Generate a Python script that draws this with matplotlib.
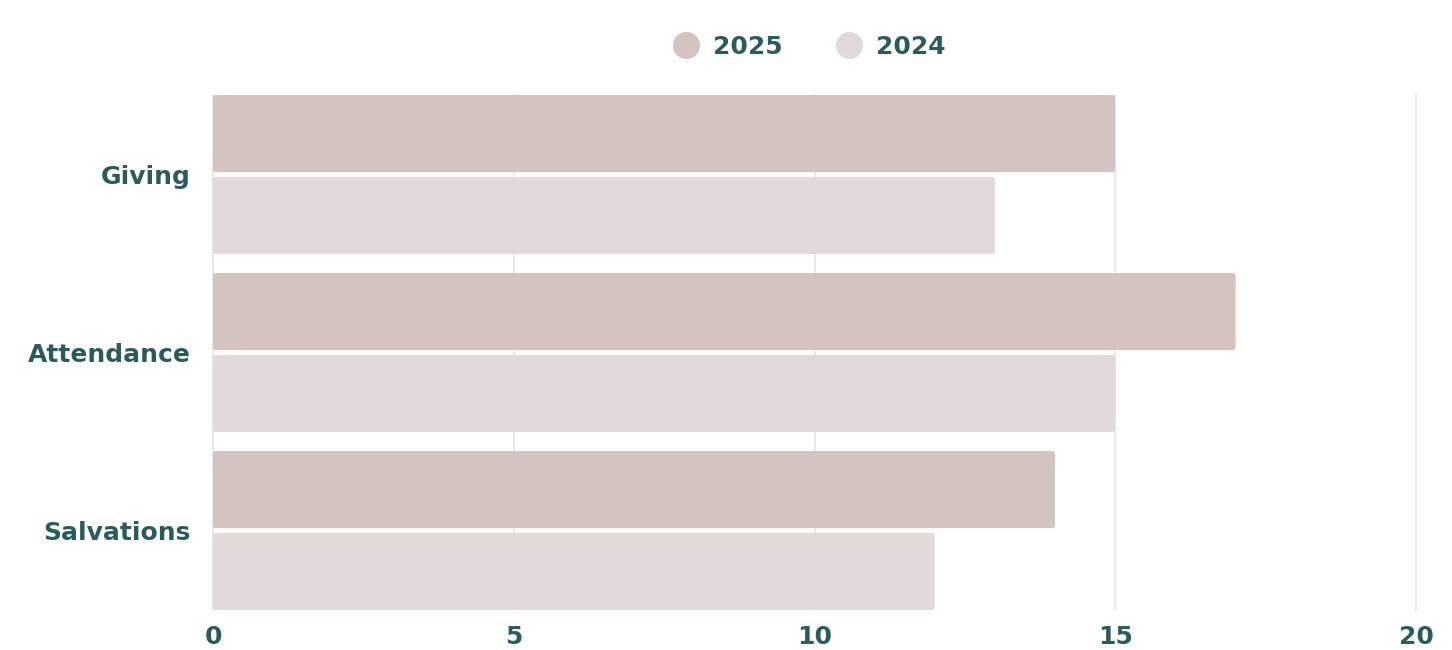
import matplotlib.pyplot as plt
from matplotlib.lines import Line2D
from matplotlib.patches import FancyBboxPatch
from matplotlib.transforms import ScaledTranslation

# =========================================================
# DATA
# =========================================================

categories = ["Giving", "Attendance", "Salvations"]

values_2025 = [15, 17, 14]

values_2024 = [13, 15, 12]

series_labels = ["2025", "2024"]

x_ticks = [0, 5, 10, 15, 20]

# =========================================================
# STYLE
# =========================================================

color_2025 = "#d3c4c1"
color_2024 = "#e2dad9"
text_color = "#2b5b5c"
grid_color = "#e6e6e6"

bar_height = 0.433
offset = 0.23

# =========================================================
# CHART
# =========================================================

fig = plt.figure(figsize=(14.52, 6.5), dpi=100)
ax = fig.add_axes([213 / 1452, 40 / 650, 1203 / 1452, 515 / 650])

ax.set_xlim(0, 20)
ax.set_ylim(2 + 0.4466, -0.4466)

# rounded corners: convert ~3px to data units in both directions
px_x = 20 / 1203
px_y = (2 * 0.4466 + 2) / 515
aspect = px_y / px_x


def rounded_bar(y_center, width, color):
    patch = FancyBboxPatch(
        (0, y_center - bar_height / 2),
        width,
        bar_height,
        boxstyle=f"round,pad=0,rounding_size={3 * px_x}",
        mutation_aspect=aspect,
        facecolor=color,
        edgecolor="none",
        zorder=3,
    )
    ax.add_patch(patch)


for i, cat in enumerate(categories):
    rounded_bar(i - offset, values_2025[i], color_2025)
    rounded_bar(i + offset, values_2024[i], color_2024)

ax.set_yticks(range(len(categories)))
ax.set_yticklabels(categories)

ax.set_xticks(x_ticks)
ax.set_xticklabels([str(t) for t in x_ticks])

for lbl in ax.get_yticklabels() + ax.get_xticklabels():
    lbl.set_fontsize(18)
    lbl.set_fontweight("bold")
    lbl.set_color(text_color)

# nudge category labels up a touch
shift_up = ScaledTranslation(0, 2.5 / 100, fig.dpi_scale_trans)
for lbl in ax.get_yticklabels():
    lbl.set_transform(lbl.get_transform() + shift_up)

ax.tick_params(axis="y", length=0, pad=16)
ax.tick_params(axis="x", length=0, pad=11)

ax.grid(axis="x", color=grid_color, linewidth=1.2, zorder=0)
for gl in ax.get_xgridlines():
    gl.set_clip_on(False)
ax.set_axisbelow(True)

for side in ["top", "right", "bottom"]:
    ax.spines[side].set_visible(False)

ax.spines["left"].set_color(grid_color)
ax.spines["left"].set_linewidth(1.2)

# =========================================================
# LEGEND
# =========================================================

handles = [
    Line2D([], [], marker="o", linestyle="none", markersize=19.5,
           markerfacecolor=color_2025, markeredgecolor="none"),
    Line2D([], [], marker="o", linestyle="none", markersize=19.5,
           markerfacecolor=color_2024, markeredgecolor="none"),
]

leg = fig.legend(
    handles,
    series_labels,
    loc="center",
    bbox_to_anchor=(803 / 1452, 1 - 47 / 650),
    ncol=2,
    frameon=False,
    handletextpad=0.08,
    columnspacing=1.66,
    prop={"size": 18, "weight": "bold"},
)

for txt in leg.get_texts():
    txt.set_color(text_color)

fig.savefig("out.png", dpi=100, facecolor="white")
